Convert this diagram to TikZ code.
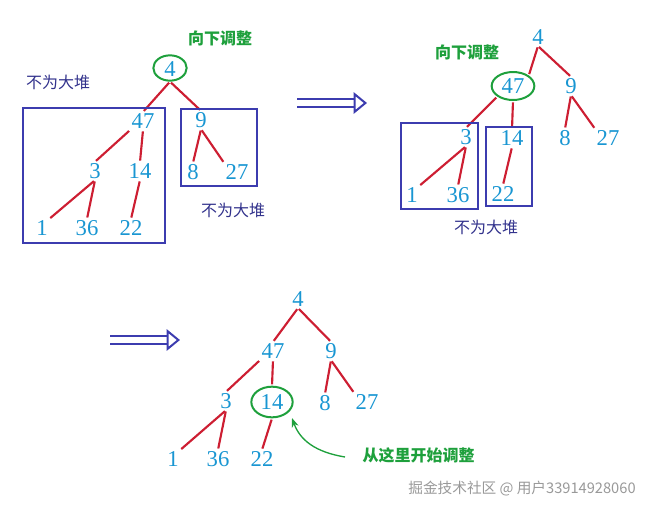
\documentclass[tikz,border=0pt]{standalone}
\usepackage{fontspec}
\setmainfont{Liberation Serif}
\newfontfamily\cjk{Noto Sans CJK SC}
\usetikzlibrary{arrows.meta,shapes.geometric}
\definecolor{num}{RGB}{25,150,210}
\definecolor{ered}{RGB}{205,30,50}
\definecolor{bblue}{RGB}{60,60,175}
\definecolor{gr}{RGB}{30,160,60}
\definecolor{lab}{RGB}{50,50,140}
\tikzset{
 n/.style={text=num,font=\fontsize{17}{17}\selectfont,inner sep=1pt},
 e/.style={draw=ered,line width=1.6pt,shorten <=1pt,shorten >=1pt},
 bx/.style={draw=bblue,line width=1.6pt},
 gcirc/.style={draw=gr,line width=1.5pt,ellipse},
 gl/.style={text=gr,font=\cjk\bfseries\fontsize{12}{12}\selectfont},
 bl/.style={text=lab,font=\cjk\fontsize{12}{12}\selectfont},
 harrow/.style={draw=bblue,line width=1.5pt,double distance=4pt,-{Triangle[open,length=10pt,width=16pt]}}
}
\begin{document}
\begin{tikzpicture}[x=0.75pt,y=-0.75pt]
\useasboundingbox (0,0) rectangle (666,511);
% tree 1
\node[n] (a4) at (170,69) {4};
\node[gcirc,minimum width=25,minimum height=19] (c1) at (170,68) {};
\node[n] (a47) at (143,121) {47};
\node[n] (a9) at (201,120) {9};
\node[n] (a3) at (95,171) {3};
\node[n] (a14) at (140,171) {14};
\node[n] (a1) at (42,228) {1};
\node[n] (a36) at (87,228) {36};
\node[n] (a22) at (131,228) {22};
\node[n] (a8) at (193,172) {8};
\node[n] (a27) at (237,172) {27};
\draw[e] (c1.south) -- (a47.north); \draw[e] (c1.south) -- (a9.north);
\draw[e] (a47.south west) -- (a3.north); \draw[e] (a47.south) -- (a14.north);
\draw[e] (a3.south) -- (a1.north east); \draw[e] (a3.south) -- (a36.north);
\draw[e] (a14.south) -- (a22.north);
\draw[e] (a9.south) -- (a8.north); \draw[e] (a9.south) -- (a27.north west);
\draw[bx] (23,108) rectangle (165,243);
\draw[bx] (181,109) rectangle (257,186);
\node[gl] (t1) at (220,38) {向下调整};
\node[bl] (t2) at (58,82) {不为大堆};
\node[bl] (t3) at (233,210) {不为大堆};
\coordinate (ar1s) at (297,103); \coordinate (ar1e) at (367,103);
\draw[harrow] (ar1s) -- (ar1e);
% tree 2
\node[n] (b4) at (538,37) {4};
\node[n] (b47) at (513,86) {47};
\node[gcirc,minimum width=32,minimum height=21] (c2) at (513,86) {};
\node[n] (b9) at (571,86) {9};
\node[n] (b3) at (466,137) {3};
\node[n] (b14) at (512,138) {14};
\node[n] (b8) at (565,138) {8};
\node[n] (b27) at (608,138) {27};
\node[n] (b1) at (412,195) {1};
\node[n] (b36) at (458,195) {36};
\node[n] (b22) at (503,194) {22};
\draw[e] (b4.south) -- (c2.north east); \draw[e] (b4.south) -- (b9.north);
\draw[e] (c2.south west) -- (b3.north); \draw[e] (c2.south) -- (b14.north);
\draw[e] (b9.south) -- (b8.north); \draw[e] (b9.south) -- (b27.north west);
\draw[e] (b3.south) -- (b1.north east); \draw[e] (b3.south) -- (b36.north);
\draw[e] (b14.south) -- (b22.north);
\draw[bx] (401,123) rectangle (478,209);
\draw[bx] (486,127) rectangle (532,206);
\node[gl] (t4) at (467,52) {向下调整};
\node[bl] (t5) at (486,227) {不为大堆};
\coordinate (ar2s) at (110,340); \coordinate (ar2e) at (180,340);
\draw[harrow] (ar2s) -- (ar2e);
% tree 3
\node[n] (d4) at (298,299) {4};
\node[n] (d47) at (273,351) {47};
\node[n] (d9) at (331,351) {9};
\node[n] (d3) at (226,401) {3};
\node[n] (d14) at (272,402) {14};
\node[gcirc,minimum width=31,minimum height=23] (c3) at (272,402) {};
\node[n] (d8) at (325,403) {8};
\node[n] (d27) at (367,402) {27};
\node[n] (d1) at (173,459) {1};
\node[n] (d36) at (218,459) {36};
\node[n] (d22) at (262,459) {22};
\draw[e] (d4.south) -- (d47.north); \draw[e] (d4.south) -- (d9.north);
\draw[e] (d47.south west) -- (d3.north); \draw[e] (d47.south) -- (c3.north);
\draw[e] (d9.south) -- (d8.north); \draw[e] (d9.south) -- (d27.north west);
\draw[e] (d3.south) -- (d1.north east); \draw[e] (d3.south) -- (d36.north);
\draw[e] (c3.south) -- (d22.north);
\node[gl,anchor=west] (t6) at (358,455) {从这里开始调整};
\coordinate (gend) at (292,418);
\draw[gr,line width=1pt,-{Stealth[length=7pt]}] (345,457) .. controls (315,452) and (300,440) .. (gend);
\node[text=gray!80,font=\cjk\fontsize{11}{11}\selectfont] (wm) at (522,489) {掘金技术社区 @ 用户3391492806​0};
\end{tikzpicture}
\end{document}
